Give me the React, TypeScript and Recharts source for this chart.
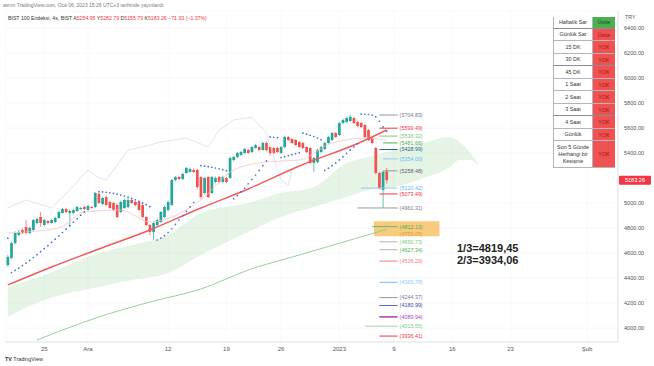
import React from 'react';
import {
  ComposedChart, XAxis, YAxis, Bar, Line, Area, ReferenceLine, ReferenceArea, CartesianGrid,
} from 'recharts';

// ---------- DATA ----------
const SLOTS = 168;

const opens = [4505,4561,4681,4745,4785,4809,4761,4785,4841,4889,4825,4857,4841,4849,4881,4921,4953,4921,4921,4937,4953,4969,4945,4969,4969,5073,4993,5049,5009,5001,4985,4929,4961,4969,5025,5009,5009,4985,4889,4825,4769,4825,4849,4889,4945,4985,5185,5209,5193,5241,5249,5265,5265,5209,5081,5209,5081,5169,5209,5169,5201,5201,5345,5369,5385,5401,5425,5409,5441,5449,5425,5481,5449,5441,5441,5401,5449,5529,5513,5505,5489,5481,5449,5441,5321,5329,5409,5433,5481,5505,5561,5545,5641,5649,5657,5681,5649,5641,5625,5585,5521,5441,5241,5105,5254.95];
const highs = [4585,4690,4775,4785,4795,4865,4812,4875,4885,4930,4875,4865,4875,4890,4940,4962,4962,4950,4955,4978,4970,4980,4988,4975,5090,5085,5050,5060,5020,5010,4995,5020,5035,5040,5035,5020,5020,4995,4895,4832,4850,4875,4938,4980,5020,5195,5218,5220,5245,5290,5285,5278,5275,5215,5210,5215,5218,5212,5218,5220,5210,5370,5378,5410,5418,5442,5435,5458,5475,5460,5492,5495,5458,5450,5450,5458,5540,5538,5520,5512,5495,5490,5455,5448,5370,5435,5458,5490,5538,5570,5570,5650,5675,5690,5704.83,5690,5658,5650,5632,5592,5530,5450,5250,5258,5282.79];
const lows = [4490,4550,4670,4735,4750,4750,4750,4778,4830,4810,4815,4830,4835,4840,4875,4915,4920,4810,4915,4930,4945,4945,4940,4955,4960,4995,4985,4975,4955,4935,4880,4920,4955,4960,4995,4975,4940,4880,4815,4745,4705,4815,4840,4880,4935,4975,5175,5185,5185,5235,5245,5240,5110,5035,5070,5040,5070,5160,5160,5160,5160,5195,5335,5360,5378,5395,5395,5400,5435,5418,5418,5415,5380,5390,5400,5395,5440,5498,5475,5458,5440,5432,5400,5310,5249,5320,5400,5425,5475,5498,5520,5538,5635,5640,5650,5632,5608,5600,5520,5495,5470,5230,5110,4961.31,5155.79];
const closes = [4569,4681,4761,4769,4761,4761,4801,4865,4873,4841,4865,4841,4865,4881,4929,4953,4929,4937,4945,4969,4961,4953,4977,4961,5081,5001,5041,4985,4961,4945,4889,5009,5025,5025,5001,4985,4945,4889,4825,4769,4841,4865,4929,4969,5009,5185,5209,5193,5233,5281,5273,5249,5129,5049,5201,5049,5209,5201,5169,5209,5169,5361,5369,5401,5409,5433,5401,5449,5465,5425,5481,5425,5401,5401,5409,5449,5529,5505,5481,5465,5449,5441,5409,5321,5361,5425,5449,5481,5529,5561,5529,5641,5665,5681,5690,5641,5617,5609,5529,5505,5481,5241,5121,5249,5183.26];
const changeAbs = -71.93;
const changePct = -1.37;

const maRedIdx = [0, 12, 25, 39, 53, 66, 80, 97, 104];
const maRedVal = [4345, 4489, 4633, 4785, 4961, 5113, 5297, 5489, 5585];

const maGreenIdx = [8, 25, 39, 53, 66, 80, 94, 104];
const maGreenVal = [3905, 4089, 4209, 4313, 4465, 4585, 4705, 4790];

const cloudIdx = [0, 10, 25, 34, 44, 53, 66, 75, 84, 93, 99, 106, 115, 121, 124, 127, 129];
const cloudUpper = [4329, 4425, 4601, 4665, 4745, 4921, 5001, 5081, 5129, 5321, 5369, 5425, 5489, 5529, 5489, 5401, 5321];
const cloudLower = [4089, 4225, 4329, 4385, 4441, 4585, 4769, 4889, 4969, 5049, 5105, 5129, 5209, 5281, 5345, 5345, 5305];

const grayIdx = [0, 5, 12, 17, 22, 25, 27, 33, 37, 42, 49, 55, 58, 62, 67, 71, 75, 77, 78];
const grayVal = [4961, 5025, 4961, 5105, 5265, 5201, 5185, 5425, 5449, 5489, 5521, 5449, 5585, 5665, 5689, 5561, 5185, 5145, 5265];

const pinkIdx = [0, 14, 21, 31, 39, 53, 62, 71, 80, 89, 99, 104];
const pinkVal = [4761, 4801, 4929, 4945, 4849, 5025, 5265, 5329, 5345, 5481, 5521, 5500];

const sarIdx = [0,
  1,2,3,4,5,6,7,8,9,10,11,12,13,14,15,16,17,18,19,20,21,
  25,26,27,28,29,30,31,32,33,34,35,36,37,38,39,
  41,42,43,44,45,46,47,48,49,50,51,
  53,54,55,56,57,58,59,60,
  62,63,64,65,66,67,68,69,70,71,
  72,73,74,
  75,76,77,78,79,80,
  81,82,83,84,85,86,
  87,88,89,90,91,92,93,94,95,96,
  97,98,99,100,101,102,103,104];
const sarVal = [4720,
  4445,4462,4480,4500,4520,4542,4565,4588,4612,4636,4660,4686,4712,4738,4765,4792,4820,4848,4876,4904,4930,
  5092,5090,5087,5083,5078,5072,5065,5057,5048,5038,5027,5015,5002,4988,4972,
  4705,4720,4740,4765,4795,4830,4865,4900,4935,4970,5005,
  5300,5296,5292,5287,5281,5275,5268,5260,
  5035,5060,5090,5120,5155,5190,5225,5262,5300,5338,
  5530,5527,5524,
  5365,5372,5380,5388,5396,5404,
  5560,5552,5543,5533,5521,5508,
  5262,5280,5300,5322,5346,5372,5398,5424,5450,5475,
  5712,5711,5709,5705,5690,5655,5610,5575];

const levelValues = [5704.83, 5599.49, 5536.32, 5481.66, 5428.99, 5354.00, 5258.48, 5120.42, 5073.49, 4961.31, 4812.13, 4750.05, 4690.73, 4627.34, 4536.29, 4365.78, 4244.37, 4180.99, 4089.94, 4015.55, 3936.41];
const zoneTop = 4855;
const zoneBottom = 4735;

const xTickIdx = [10, 22, 44, 60, 75, 91, 106, 122, 138, 159];
const xTickLabels = ['25', 'Ara', '12', '19', '26', '2023', '9', '16', '23', 'Şub'];
const yTicks = [4000, 4200, 4400, 4600, 4800, 5000, 5400, 5600, 5800, 6000, 6200, 6400];

const tableLabels = ['Haftalık Sar', 'Günlük Sar', '15 DK', '30 DK', '45 DK', '1 Saat', '2 Saat', '3 Saat', '4 Saat', 'Günlük', 'Son 5 Günde Herhangi bir Kesişme'];
const tableValues = ['Üstte', 'Üstte', 'YOK', 'YOK', 'YOK', 'YOK', 'YOK', 'YOK', 'YOK', 'YOK', 'YOK'];

const note1 = '1/3=4819,45';
const note2 = '2/3=3934,06';

// ---------- STYLE ----------
const FONT = '"Liberation Sans", Arial, sans-serif';
const UP = '#26a69a';
const DOWN = '#ef5350';
const levelColors = ['#787b86', '#f23645', '#81c784', '#4caf50', '#1b6f7a', '#64b5f6', '#5d606b', '#64b5f6', '#f23645', '#787b86', '#4caf50', '#e0a030', '#81c784', '#4caf50', '#f77c80', '#90caf9', '#787b86', '#3949ab', '#ab47bc', '#81c784', '#f23645'];
const levelLineColors = ['#9598a1', '#f23645', '#81c784', '#4caf50', '#1b6f7a', '#90caf9', '#9598a1', '#90caf9', '#f23645', '#9598a1', '#66bb6a', '#f0b050', '#b2b5be', '#b2b5be', '#f77c80', '#90caf9', '#9598a1', '#5c6bc0', '#ab47bc', '#a5d6a7', '#f23645'];
const levelWidths = [1, 1, 1, 1, 1, 1, 1, 1, 1, 1, 1, 0, 1, 1, 1, 1.3, 1, 1, 1.6, 1, 1];
const levelFrom = [102, 102, 102, 103, 102, 103, 103, 97, 102, 96, 100, 102, 102, 102, 102, 102, 102, 102, 102, 98, 102];
const levelTo = 107;
const rowHeights = [12.3, 12.7, 12.6, 12.4, 12.6, 12.4, 12.6, 12.4, 12.6, 12.4, 26.6];
const valueBg = ['#4caf50', '#f05252', '#f05252', '#f05252', '#f05252', '#f05252', '#f05252', '#f05252', '#f05252', '#f05252', '#f05252'];
const valueFg = ['#1b4d1e', '#9e1010', '#9e1010', '#9e1010', '#9e1010', '#9e1010', '#9e1010', '#9e1010', '#9e1010', '#9e1010', '#9e1010'];
const thickAfter = [0, 3, 7];

// ---------- TABLES FOR RECHARTS ----------
const rows: any[] = [];
for (let i = 0; i < SLOTS; i++) rows.push({ i });
opens.forEach((o, k) => {
  Object.assign(rows[k], { o, h: highs[k], l: lows[k], c: closes[k], hl: [lows[k], highs[k]] });
});
const put = (key: string, idx: number[], val: number[]) => idx.forEach((ix, k) => { rows[ix][key] = val[k]; });
put('maRed', maRedIdx, maRedVal);
put('maGreen', maGreenIdx, maGreenVal);
put('gray', grayIdx, grayVal);
put('pink', pinkIdx, pinkVal);
put('sar', sarIdx, sarVal);
const cloudData = cloudIdx.map((i, k) => ({ i, band: [cloudLower[k], cloudUpper[k]] }));

const last = opens.length - 1;

const Candle = (props: any) => {
  const { x, y, width, height, payload } = props;
  if (!payload || payload.o == null || !isFinite(y) || !isFinite(height)) return null;
  const { o, h, l, c } = payload;
  const top = Math.min(y, y + height);
  const hh = Math.abs(height);
  const ppu = h - l > 0 ? hh / (h - l) : 0;
  const yO = top + (h - o) * ppu;
  const yC = top + (h - c) * ppu;
  const color = c >= o ? UP : DOWN;
  const cx = x + width / 2;
  const bw = Math.max(2, Math.min(width, 2.7));
  const bt = Math.min(yO, yC);
  const bh = Math.max(0.8, Math.abs(yO - yC));
  return (
    <g>
      <line x1={cx} x2={cx} y1={top} y2={top + hh} stroke={color} strokeWidth={0.7} />
      <rect x={cx - bw / 2} y={bt} width={bw} height={bh} fill={color} />
    </g>
  );
};

const PriceTag = (props: any) => {
  const { viewBox, text } = props;
  if (!viewBox) return null;
  const x = viewBox.x + viewBox.width + 1;
  const y = viewBox.y;
  return (
    <g>
      <rect x={x} y={y - 4.5} width={32} height={9} fill="#f23645" rx={1} />
      <text x={x + 16} y={y + 2} textAnchor="middle" fontSize={5.6} fill="#ffffff" fontFamily={FONT}>{text}</text>
    </g>
  );
};

export default function App() {
  const red = '#f23645';
  return (
    <div style={{ position: 'absolute', left: 0, top: 0, width: 654, height: 366, background: '#fff', overflow: 'hidden', fontFamily: FONT }}>
      <ComposedChart width={654} height={366} data={rows} margin={{ top: 11, right: 0, bottom: 8, left: 6 }}>
        <CartesianGrid stroke="#f4f5f8" strokeWidth={0.6} />
        <XAxis
          dataKey="i" type="category" allowDuplicatedCategory={false}
          ticks={xTickIdx} interval={0}
          tickFormatter={(v: any) => xTickLabels[xTickIdx.indexOf(Number(v))] ?? ''}
          tick={{ fontSize: 6, fill: '#555', fontFamily: FONT }}
          axisLine={{ stroke: '#e0e3eb' }} tickLine={false} tickSize={4} tickMargin={1} height={16}
        />
        <YAxis
          orientation="right" type="number" domain={[3889, 6537]} allowDataOverflow ticks={yTicks} interval={0}
          tickFormatter={(v: number) => v.toFixed(2)}
          tick={{ fontSize: 5.6, fill: '#555', fontFamily: FONT }}
          axisLine={{ stroke: '#e0e3eb' }} tickLine={false} tickSize={4} tickMargin={2} width={36}
        />
        <Area data={cloudData} dataKey="band" type="monotone" stroke="none" fill="#4caf50" fillOpacity={0.14} isAnimationActive={false} />
        <ReferenceArea x1={101} x2={118} y1={zoneBottom} y2={zoneTop} fill="#f7b548" fillOpacity={0.7} stroke="none" />
        <Line dataKey="gray" type="linear" stroke="#dcdde2" strokeWidth={0.8} dot={false} connectNulls isAnimationActive={false} />
        <Line dataKey="pink" type="monotone" stroke="#f6c3c7" strokeWidth={0.8} dot={false} connectNulls isAnimationActive={false} />
        <Line dataKey="maGreen" type="monotone" stroke="#8cc98e" strokeWidth={0.9} dot={false} connectNulls isAnimationActive={false} />
        <Line dataKey="maRed" type="monotone" stroke="#f05a5a" strokeWidth={1.4} dot={false} connectNulls isAnimationActive={false} />
        <Bar dataKey="hl" shape={<Candle />} isAnimationActive={false} />
        <Line dataKey="sar" stroke="none" dot={{ r: 0.85, fill: '#3f6fe0', stroke: 'none' }} activeDot={false} isAnimationActive={false} />
        {levelValues.map((v, k) => (
          <ReferenceLine
            key={k}
            segment={[{ x: levelFrom[k], y: v }, { x: levelTo, y: v }]}
            stroke={levelWidths[k] > 0 ? levelLineColors[k] : 'none'}
            strokeWidth={levelWidths[k] || 1}
            ifOverflow="visible"
            label={{ value: `(${v.toFixed(2)})`, position: 'right', fill: levelColors[k], fontSize: 5.4, offset: 2, fontFamily: FONT }}
          />
        ))}
        <ReferenceLine y={closes[last]} stroke="none" ifOverflow="visible" label={<PriceTag text={closes[last].toFixed(2)} />} />
      </ComposedChart>

      {/* header */}
      <div style={{ position: 'absolute', left: 3, top: 2, fontSize: 5, color: '#787b86', whiteSpace: 'nowrap' }}>
        asrım TradingView.com, Oca 06, 2023 15:26 UTC+3 tarihinde yayınlandı
      </div>
      <div style={{ position: 'absolute', left: 8, top: 15, fontSize: 5.2, color: '#333', whiteSpace: 'nowrap' }}>
        BIST 100 Endeksi, 4s, BIST{'  '}
        A<span style={{ color: red }}>{opens[last].toFixed(2)}</span>{' '}
        Y<span style={{ color: red }}>{highs[last].toFixed(2)}</span>{' '}
        D<span style={{ color: red }}>{lows[last].toFixed(2)}</span>{' '}
        K<span style={{ color: red }}>{closes[last].toFixed(2)}</span>{' '}
        <span style={{ color: red }}>{`−${Math.abs(changeAbs).toFixed(2)} (−${Math.abs(changePct).toFixed(2)}%)`}</span>
      </div>

      {/* currency */}
      <div style={{ position: 'absolute', left: 625, top: 14, fontSize: 5.4, color: '#555' }}>TRY</div>

      {/* table */}
      <div style={{ position: 'absolute', left: 553, top: 16.5, width: 62, fontSize: 5.4 }}>
        {tableLabels.map((lab, k) => (
          <div key={k} style={{ display: 'flex', height: rowHeights[k], boxSizing: 'border-box', borderBottom: thickAfter.includes(k) ? '1.2px solid #8a8d96' : '0.6px solid #b2b5be' }}>
            <div style={{ width: 40, background: '#fff', color: '#333', display: 'flex', alignItems: 'center', justifyContent: 'center', textAlign: 'center', lineHeight: '7px', borderLeft: '0.6px solid #b2b5be', borderRight: '0.6px solid #b2b5be', boxSizing: 'border-box', padding: 0 }}>{lab}</div>
            <div style={{ width: 22, background: valueBg[k], color: valueFg[k], display: 'flex', alignItems: 'center', justifyContent: 'center' }}>{tableValues[k]}</div>
          </div>
        ))}
      </div>

      {/* notes */}
      <div style={{ position: 'absolute', left: 457, top: 242, fontSize: 11, fontWeight: 700, color: '#222', lineHeight: '12px' }}>
        <div>{note1}</div>
        <div>{note2}</div>
      </div>

      {/* logo */}
      <div style={{ position: 'absolute', left: 5, top: 356, fontSize: 5.4, color: '#333', whiteSpace: 'nowrap' }}>
        <b>TV</b> TradingView
      </div>
    </div>
  );
}
